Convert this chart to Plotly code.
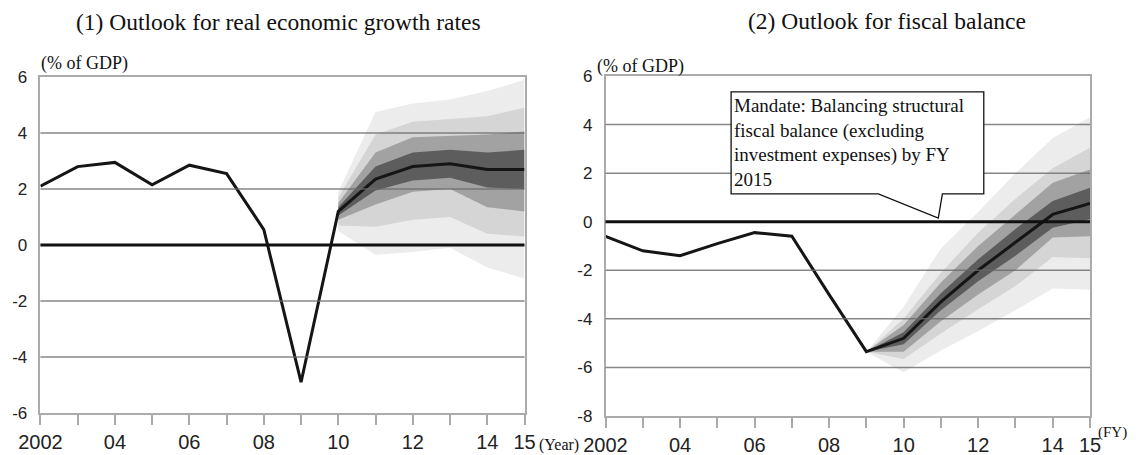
import plotly.graph_objects as go

# ---------------- data ----------------
years_hist = [2002, 2003, 2004, 2005, 2006, 2007, 2008, 2009, 2010, 2011, 2012, 2013, 2014, 2015]
growth = [2.1, 2.8, 2.95, 2.15, 2.85, 2.55, 0.55, -4.9, 1.2, 2.35, 2.8, 2.9, 2.7, 2.7]

fan1_years = [2010, 2011, 2012, 2013, 2014, 2015]
g_lightest_up = [1.9, 4.75, 5.05, 5.2, 5.5, 5.9]
g_light_up = [1.7, 3.95, 4.4, 4.5, 4.6, 4.9]
g_medium_up = [1.5, 3.3, 3.85, 3.9, 3.95, 4.05]
g_dark_up = [1.35, 2.8, 3.3, 3.4, 3.3, 3.4]
g_dark_lo = [1.05, 1.95, 2.3, 2.4, 2.05, 2.0]
g_medium_lo = [0.9, 1.45, 1.9, 2.0, 1.35, 1.2]
g_light_lo = [0.7, 0.65, 0.9, 1.0, 0.4, 0.3]
g_lightest_lo = [0.5, -0.35, -0.25, -0.1, -0.8, -1.2]

fiscal = [-0.6, -1.2, -1.4, -0.9, -0.45, -0.6, -3.0, -5.35, -4.8, -3.3, -2.0, -0.85, 0.3, 0.75]

fan2_years = [2009, 2010, 2011, 2012, 2013, 2014, 2015]
f_lightest_up = [-5.35, -3.5, -1.1, 0.4, 2.0, 3.45, 4.3]
f_light_up = [-5.35, -4.0, -2.1, -0.45, 0.95, 2.2, 3.05]
f_medium_up = [-5.35, -4.25, -2.5, -1.0, 0.3, 1.6, 2.15]
f_dark_up = [-5.35, -4.55, -2.95, -1.55, -0.3, 0.85, 1.4]
f_dark_lo = [-5.35, -5.05, -3.65, -2.45, -1.4, -0.25, 0.1]
f_medium_lo = [-5.35, -5.35, -4.1, -3.0, -2.0, -0.65, -0.6]
f_light_lo = [-5.35, -5.65, -4.6, -3.6, -2.65, -1.45, -1.5]
f_lightest_lo = [-5.35, -6.2, -5.3, -4.5, -3.65, -2.75, -2.8]

x_tickvals = [2002, 2004, 2006, 2008, 2010, 2012, 2014, 2015]
x_ticktext = ["2002", "04", "06", "08", "10", "12", "14", "15"]
y1_ticks = [-6, -4, -2, 0, 2, 4, 6]
y1_labels = ["-6", "-4", "-2", "0", "2", "4", "6"]
y2_ticks = [-8, -6, -4, -2, 0, 2, 4, 6]
y2_labels = ["-8", "-6", "-4", "-2", "0", "2", "4", "6"]

callout_text = ("Mandate: Balancing structural<br>fiscal balance (excluding<br>"
                "investment expenses) by FY<br>2015")

# ---------------- style ----------------
SERIF = "Liberation Serif, Times New Roman, serif"
SANS = "Liberation Sans, Arial, sans-serif"
band_colors = ["#ececec", "#d5d5d5", "#a2a2a2", "#5d5d5d"]

fig = go.Figure()


def add_fan(xs, bands, xa, ya):
    for (up, lo), col in zip(bands, band_colors):
        fig.add_trace(go.Scatter(
            x=xs + xs[::-1], y=up + lo[::-1], fill="toself", fillcolor=col,
            mode="lines", line=dict(width=0, color=col), hoverinfo="skip",
            showlegend=False, xaxis=xa, yaxis=ya))


add_fan(fan1_years, [(g_lightest_up, g_lightest_lo), (g_light_up, g_light_lo),
                     (g_medium_up, g_medium_lo), (g_dark_up, g_dark_lo)], "x", "y")
add_fan(fan2_years, [(f_lightest_up, f_lightest_lo), (f_light_up, f_light_lo),
                     (f_medium_up, f_medium_lo), (f_dark_up, f_dark_lo)], "x2", "y2")

fig.add_trace(go.Scatter(x=years_hist, y=growth, mode="lines",
                         line=dict(color="#151515", width=3), showlegend=False,
                         xaxis="x", yaxis="y"))
fig.add_trace(go.Scatter(x=years_hist, y=fiscal, mode="lines",
                         line=dict(color="#151515", width=3), showlegend=False,
                         xaxis="x2", yaxis="y2"))

shapes = []
for xa, ya, ticks in (("x", "y", y1_ticks), ("x2", "y2", y2_ticks)):
    for v in ticks[1:-1]:
        if v == 0:
            continue
        shapes.append(dict(type="line", xref=f"{xa} domain", yref=ya, x0=0, x1=1,
                           y0=v, y1=v, line=dict(color="rgba(105,105,105,0.8)", width=1.5),
                           layer="above"))
    shapes.append(dict(type="line", xref=f"{xa} domain", yref=ya, x0=0, x1=1,
                       y0=0, y1=0, line=dict(color="#111111", width=3), layer="above"))

# callout box (annotation frame) in axis-2 units
bx0, bx1, by0, by1 = 2005.37, 2012.15, 1.15, 5.35
pl, pr, tipx, tipy = 2009.32, 2011.04, 2010.93, 0.15
shapes.append(dict(type="path", xref="x2", yref="y2",
                   path=(f"M {bx0},{by1} L {bx1},{by1} L {bx1},{by0} L {pr},{by0} "
                         f"L {tipx},{tipy} L {pl},{by0} L {bx0},{by0} Z"),
                   fillcolor="white", line=dict(color="#111111", width=1.3), layer="above"))

axis_common = dict(showgrid=False, zeroline=False, showline=True, mirror=True,
                   linecolor="#ababab", linewidth=1.5, fixedrange=True, automargin=False)

xfont = dict(family=SANS, size=20, color="#222222")
yfont = dict(family=SANS, size=17, color="#222222")
minor = dict(dtick=1, tick0=2002, ticks="outside", ticklen=10, tickwidth=1.5,
             tickcolor="#aaaaaa", showgrid=False)

fig.update_layout(
    width=1144, height=455, margin=dict(l=0, r=0, t=0, b=0),
    paper_bgcolor="white", plot_bgcolor="white", showlegend=False,
    shapes=shapes,
    xaxis=dict(domain=[40.4 / 1144, 524.5 / 1144], range=[2002, 2015],
               tickvals=x_tickvals, ticktext=x_ticktext, ticks="outside", ticklen=10,
               tickwidth=1.5, tickcolor="#aaaaaa", tickfont=xfont, minor=minor,
               anchor="y", **axis_common),
    yaxis=dict(domain=[(455 - 413) / 455, (455 - 77) / 455], range=[-6, 6],
               tickvals=y1_ticks, ticktext=y1_labels, ticks="", ticklabelstandoff=8,
               tickfont=yfont, anchor="x", **axis_common),
    xaxis2=dict(domain=[605.5 / 1144, 1090 / 1144], range=[2002, 2015],
                tickvals=x_tickvals, ticktext=x_ticktext, ticks="outside", ticklen=10,
                tickwidth=1.5, tickcolor="#aaaaaa", tickfont=xfont, minor=minor,
                anchor="y2", **axis_common),
    yaxis2=dict(domain=[(455 - 416) / 455, (455 - 76) / 455], range=[-8, 6],
                tickvals=y2_ticks, ticktext=y2_labels, ticks="", ticklabelstandoff=8,
                tickfont=yfont, anchor="x2", **axis_common),
)

ann = [
    dict(text="(1) Outlook for real economic growth rates", x=278 / 1144, y=(455 - 22) / 455,
         font=dict(family=SERIF, size=23.5, color="#111111")),
    dict(text="(2) Outlook for fiscal balance", x=887 / 1144, y=(455 - 21) / 455,
         font=dict(family=SERIF, size=23.5, color="#111111")),
]
for a in ann:
    a.update(xref="paper", yref="paper", xanchor="center", yanchor="middle", showarrow=False)

small = [
    ("(% of GDP)", 39, 63.5, 18),
    ("(% of GDP)", 595, 66, 18),
    ("(Year)", 537, 445, 16),
    ("(FY)", 1096, 432, 15),
]
for t, px, py, fs in small:
    ann.append(dict(text=t, xref="paper", yref="paper", x=px / 1144, y=(455 - py) / 455,
                    xanchor="left", yanchor="middle", showarrow=False,
                    font=dict(family=SERIF, size=fs, color="#111111")))

ann.append(dict(text=callout_text, xref="x2", yref="y2", x=bx0, y=by1, xanchor="left",
                yanchor="top", align="left", showarrow=False, xshift=1, yshift=-1,
                font=dict(family=SERIF, size=19, color="#111111")))

fig.update_layout(annotations=ann)

fig.write_html("out.html", config={"displayModeBar": False},
               post_script="document.body.style.margin='0px';")
